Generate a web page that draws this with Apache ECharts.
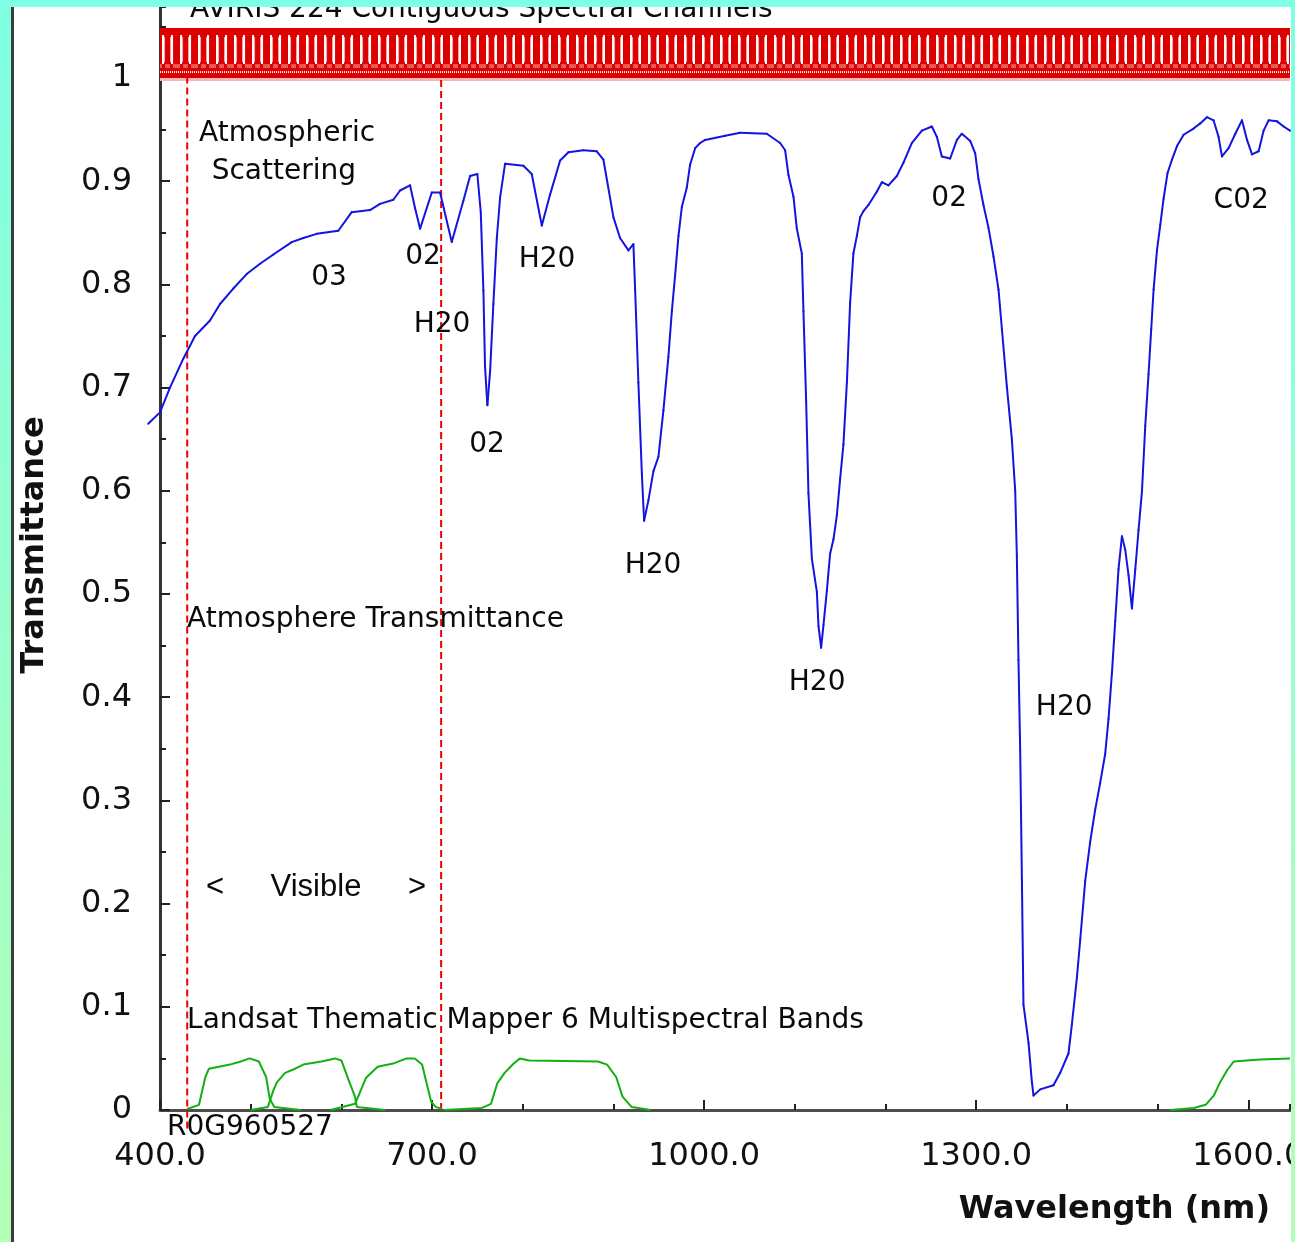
<!DOCTYPE html>
<html>
<head>
<meta charset="utf-8">
<title>Atmosphere Transmittance</title>
<script src="https://cdn.jsdelivr.net/npm/echarts@6/dist/echarts.min.js"></script>
<style>
  html, body { margin: 0; padding: 0; background: #fff; }
  #chart { width: 1295px; height: 1242px; }
</style>
</head>
<body>
<div id="chart"></div>
<script>
// atmosphere transmittance curve (wavelength nm / transmittance)
var waveBlue = [387, 400, 411, 425.7, 438.6, 455.1, 466.2, 480.8, 495.6, 510.3,
  525, 545.3, 558, 572.8, 596.6, 611.4, 631.6, 642.6, 657.3, 664.7,
  675.7, 681.2, 686.8, 699.7, 708.8, 721.7, 734.5, 741.9, 749.9, 753.7,
  756.6, 758.4, 761, 764, 767.6, 771.4, 775, 780.5, 800.7, 809.9,
  821, 830.1, 841.2, 850.3, 866.9, 881.6, 888.9, 900, 907.3, 916.5,
  922, 923.9, 927.5, 931.3, 933.8, 938.6, 944.1, 949.6, 955.1, 960.6,
  964.4, 968, 971.7, 975.4, 980.9, 984.5, 990.1, 995.6, 1001.1, 1023.2,
  1039.7, 1069.1, 1083.8, 1089.3, 1093, 1098.5, 1102.2, 1107.7, 1109.5, 1112.5,
  1115, 1118.8, 1124.3, 1126.1, 1129, 1131.6, 1135.3, 1138.9, 1142.6, 1146.3,
  1150, 1153.6, 1157.4, 1161, 1164.6, 1168.4, 1172, 1175.7, 1181.2, 1190.5,
  1196, 1203.2, 1212.5, 1219.8, 1229, 1240.1, 1251.1, 1256.6, 1262.1, 1271.3,
  1278.7, 1284.2, 1293.4, 1298.9, 1302.5, 1308, 1313.5, 1319.1, 1324.6, 1328.3,
  1333.8, 1339.3, 1343, 1344.8, 1346.6, 1348.5, 1350.4, 1352.1, 1357.7, 1361.4,
  1363.2, 1370.6, 1385.2, 1392.6, 1401.8, 1405.5, 1411, 1414.7, 1420.2, 1425.7,
  1431.2, 1436.7, 1442.2, 1445.9, 1449.7, 1453.3, 1456.9, 1460.7, 1464.3, 1468,
  1471.7, 1475.4, 1479, 1482.8, 1486.4, 1490, 1493, 1495.6, 1499.3, 1503,
  1506.6, 1511, 1515.9, 1521.4, 1528.7, 1539.7, 1547, 1554.4, 1561.7, 1567.2,
  1571, 1578.3, 1585.7, 1593.1, 1598.6, 1604.1, 1611.4, 1616.9, 1622.5, 1631.7,
  1639, 1646];
var transBlue = [0.665, 0.676, 0.700, 0.728, 0.750, 0.765, 0.781, 0.796, 0.810, 0.820,
  0.829, 0.841, 0.845, 0.849, 0.852, 0.870, 0.872, 0.878, 0.882, 0.891,
  0.896, 0.874, 0.854, 0.889, 0.889, 0.841, 0.881, 0.905, 0.907, 0.870,
  0.794, 0.720, 0.683, 0.716, 0.781, 0.845, 0.884, 0.917, 0.915, 0.907,
  0.857, 0.887, 0.920, 0.928, 0.930, 0.929, 0.921, 0.865, 0.845, 0.833,
  0.839, 0.795, 0.705, 0.617, 0.571, 0.591, 0.619, 0.633, 0.678, 0.730,
  0.774, 0.809, 0.847, 0.875, 0.894, 0.916, 0.932, 0.937, 0.940, 0.944,
  0.947, 0.946, 0.937, 0.930, 0.906, 0.885, 0.854, 0.830, 0.774, 0.686,
  0.598, 0.534, 0.502, 0.469, 0.448, 0.470, 0.503, 0.539, 0.553, 0.576,
  0.612, 0.645, 0.705, 0.783, 0.830, 0.847, 0.865, 0.871, 0.877, 0.890,
  0.899, 0.896, 0.905, 0.918, 0.937, 0.949, 0.953, 0.943, 0.924, 0.922,
  0.940, 0.946, 0.939, 0.927, 0.902, 0.877, 0.855, 0.827, 0.795, 0.757,
  0.701, 0.650, 0.600, 0.537, 0.436, 0.348, 0.222, 0.102, 0.065, 0.027,
  0.014, 0.020, 0.024, 0.036, 0.055, 0.083, 0.128, 0.165, 0.222, 0.260,
  0.291, 0.317, 0.345, 0.379, 0.424, 0.474, 0.524, 0.556, 0.543, 0.518,
  0.486, 0.524, 0.562, 0.600, 0.663, 0.713, 0.757, 0.795, 0.833, 0.858,
  0.883, 0.908, 0.921, 0.934, 0.945, 0.951, 0.956, 0.962, 0.959, 0.943,
  0.924, 0.932, 0.946, 0.959, 0.940, 0.926, 0.929, 0.949, 0.959, 0.958,
  0.953, 0.949];

// Landsat TM band responses
var tmWave1 = [430, 443, 450, 454, 465, 477, 489, 499, 509, 517, 521, 526, 555];
var tmTrans1 = [0.001, 0.005, 0.032, 0.040, 0.042, 0.044, 0.047, 0.050, 0.047, 0.032, 0.011, 0.003, 0];
var tmWave2 = [500, 519, 525, 529, 538, 549, 558, 578, 593, 600, 608, 615, 617, 648];
var tmTrans2 = [0, 0.003, 0.019, 0.027, 0.036, 0.040, 0.044, 0.047, 0.050, 0.048, 0.029, 0.013, 0.003, 0];
var tmWave3 = [588, 615, 620, 627, 640, 657, 672, 681, 689, 694, 699, 704, 711];
var tmTrans3 = [0, 0.006, 0.016, 0.031, 0.042, 0.045, 0.050, 0.050, 0.044, 0.026, 0.008, 0.003, 0.001];
var tmWave4 = [713, 755, 765, 772, 780, 790, 797, 807, 883, 893, 903, 910, 920, 941];
var tmTrans4 = [0, 0.002, 0.006, 0.026, 0.036, 0.045, 0.050, 0.048, 0.047, 0.044, 0.032, 0.013, 0.003, 0];
var tmWave5 = [1514, 1540, 1553, 1562, 1569, 1577, 1584, 1613, 1646];
var tmTrans5 = [0, 0.002, 0.005, 0.014, 0.027, 0.039, 0.047, 0.049, 0.050];

// visible range edges
var visibleEdges = [430, 710];
var visibleLow = [-0.018, 0];

// AVIRIS channel strip
var avirisWave = [400, 1646];
var avirisTrans = [1.0, 1.0484];

// text notes
var annoText = ['AVIRIS 224 Contiguous Spectral Channels', 'Atmospheric', 'Scattering', '03', '02', 'H20', '02', 'H20',
  'H20', 'H20', '02', 'H20', 'C02', 'Atmosphere Transmittance',
  'Landsat Thematic Mapper 6 Multispectral Bands', 'R0G960527'];
var annoWave = [433, 443, 457, 586.4, 690, 711, 760.7, 826.8, 943.7, 1124.6, 1270.2, 1397, 1592.2, 429.8, 429.8, 407.7];
var annoTrans = [1.0659, 0.9457, 0.909, 0.806, 0.8266, 0.7607, 0.6444, 0.8236, 0.5271, 0.4138, 0.8828, 0.3895, 0.8808,
  0.4747, 0.0862, -0.0175];
var annoAlign = ['left', 'left', 'left', 'center', 'center', 'center', 'center', 'center', 'center', 'center', 'center',
  'center', 'center', 'left', 'left', 'left'];
var visText = ['<', 'Visible', '>'];
var visWave = [460.7, 572, 683.4];
var visTrans = [0.2161, 0.2161, 0.2161];

var FONT = 'DejaVu Sans';

function pairs(xs, ys) {
  return xs.map(function (x, i) { return [x, ys[i]]; });
}

function segments(xs, ys) {
  var out = [];
  for (var i = 1; i < xs.length; i++) out.push([xs[i - 1], ys[i - 1], xs[i], ys[i]]);
  return out;
}

// red strip texture, two channels per tile
function bandPattern() {
  var cols = 'RRWWPRRRRRPWWRRRRR';
  var c = document.createElement('canvas');
  c.width = cols.length;
  c.height = 50;
  var g = c.getContext('2d');
  g.fillStyle = '#dd0000';
  g.fillRect(0, 0, c.width, 50);
  for (var x = 0; x < cols.length; x++) {
    if (cols[x] === 'W') {
      g.fillStyle = '#ffffff';
      g.fillRect(x, 7, 1, 29);
    } else if (cols[x] === 'P') {
      g.fillStyle = '#f4a4a4';
      g.fillRect(x, 9, 1, 25);
    } else {
      g.fillStyle = '#e65a5a';
      g.fillRect(x, 36, 1, 4);
    }
    if (x % 2 === 0) {
      g.fillStyle = '#ffffff';
      g.fillRect(x, 43, 1, 2);
    }
  }
  return c;
}

// straight pieces drawn through the axes, not clipped by the grid
function segSeries(segs, style, z) {
  return {
    type: 'custom',
    silent: true,
    clip: false,
    z: z,
    data: segs,
    renderItem: function (params, api) {
      var a = api.coord([api.value(0), api.value(1)]);
      var b = api.coord([api.value(2), api.value(3)]);
      return {
        type: 'line',
        shape: { x1: a[0], y1: a[1], x2: b[0], y2: b[1] },
        style: style
      };
    }
  };
}

function tmSeries(xs, ys) {
  return {
    type: 'line',
    data: pairs(xs, ys),
    symbol: 'none',
    clip: false,
    z: 3,
    lineStyle: { color: '#12b012', width: 2 }
  };
}

function textSeries(texts, xs, ys, aligns, font, size) {
  return {
    type: 'scatter',
    silent: true,
    clip: false,
    symbolSize: 1,
    z: 4,
    itemStyle: { color: 'rgba(0,0,0,0)', opacity: 1 },
    data: texts.map(function (t, i) {
      return {
        value: [xs[i], ys[i]],
        name: t,
        label: { align: aligns ? aligns[i] : 'center' }
      };
    }),
    label: {
      show: true,
      position: 'inside',
      verticalAlign: 'middle',
      fontFamily: font,
      fontSize: size,
      color: '#0a0a0a',
      formatter: function (p) { return p.name; }
    }
  };
}

var chart = echarts.init(document.getElementById('chart'));
var stripGradient = new echarts.graphic.LinearGradient(0, 0, 0, 1, [
  { offset: 0, color: '#7fffe3' },
  { offset: 1, color: '#b2ffb6' }
]);

chart.setOption({
  animation: false,
  backgroundColor: '#ffffff',
  grid: { left: 160, right: 5, top: 7, bottom: 132, containLabel: false, outerBoundsMode: 'none' },
  xAxis: [
    {
      type: 'value', position: 'bottom', min: 400, max: 1646, interval: 300,
      axisLine: { lineStyle: { color: '#4d4d4d', width: 3 } },
      axisTick: { inside: true, length: 10, lineStyle: { color: '#222', width: 2 } },
      axisLabel: {
        margin: 31, fontFamily: FONT, fontSize: 32, color: '#111', showMaxLabel: false,
        formatter: function (v) { return v.toFixed(1); }
      },
      splitLine: { show: false }
    },
    {
      type: 'value', position: 'bottom', min: 400, max: 1646, interval: 100,
      axisLine: { show: false },
      axisTick: { inside: true, length: 6, lineStyle: { color: '#222', width: 2 } },
      axisLabel: { show: false },
      splitLine: { show: false }
    }
  ],
  yAxis: [
    {
      type: 'value', position: 'left', min: 0, max: 1.0688, interval: 0.1,
      axisLine: { lineStyle: { color: '#333', width: 3 } },
      axisTick: { inside: true, length: 10, lineStyle: { color: '#222', width: 2 } },
      axisLabel: { margin: 28, fontFamily: FONT, fontSize: 32, color: '#111', showMaxLabel: false },
      splitLine: { show: false }
    },
    {
      type: 'value', position: 'left', min: 0, max: 1.0688, interval: 0.05,
      axisLine: { show: false },
      axisTick: { inside: true, length: 6, lineStyle: { color: '#222', width: 2 } },
      axisLabel: { show: false },
      splitLine: { show: false }
    }
  ],
  series: [
    {
      type: 'custom',
      silent: true,
      z: 1,
      data: [[avirisWave[0], avirisWave[1], avirisTrans[0], avirisTrans[1]]],
      renderItem: function (params, api) {
        var p0 = api.coord([api.value(0), api.value(3)]);
        var p1 = api.coord([api.value(1), api.value(2)]);
        return {
          type: 'group',
          children: [
            {
              type: 'rect', x: p0[0], y: p0[1],
              shape: { x: 0, y: 0, width: p1[0] - p0[0], height: p1[1] - p0[1] },
              style: { fill: { image: bandPattern(), repeat: 'repeat' } }
            },
            {
              type: 'rect',
              shape: { x: p0[0], y: p1[1], width: p1[0] - p0[0], height: 3 },
              style: { fill: '#f6b4b4' }
            }
          ]
        };
      }
    },
    segSeries(segments(waveBlue, transBlue),
      { stroke: '#1414e0', lineWidth: 2, lineCap: 'round' }, 3),
    segSeries(visibleEdges.map(function (w, i) { return [w, visibleLow[i], w, 1]; }),
      { stroke: '#ee0000', lineWidth: 2, lineDash: [7, 4] }, 2),
    tmSeries(tmWave1, tmTrans1),
    tmSeries(tmWave2, tmTrans2),
    tmSeries(tmWave3, tmTrans3),
    tmSeries(tmWave4, tmTrans4),
    tmSeries(tmWave5, tmTrans5),
    textSeries(annoText, annoWave, annoTrans, annoAlign, FONT, 28),
    textSeries(visText, visWave, visTrans, null, 'Liberation Sans', 31)
  ],
  graphic: [
    {
      type: 'text', z: 50, x: 35, y: 545, rotation: Math.PI / 2,
      style: {
        text: 'Transmittance', fontFamily: FONT, fontWeight: 'bold', fontSize: 32,
        fill: '#111', align: 'center', verticalAlign: 'middle'
      }
    },
    {
      type: 'text', z: 50, x: 1270, y: 1210,
      style: {
        text: 'Wavelength (nm)', fontFamily: FONT, fontWeight: 'bold', fontSize: 32,
        fill: '#111', align: 'right', verticalAlign: 'middle'
      }
    },
    { type: 'rect', z: 100, shape: { x: 0, y: 0, width: 11, height: 1242 }, style: { fill: stripGradient } },
    { type: 'rect', z: 100, shape: { x: 11, y: 7, width: 3, height: 1235 }, style: { fill: '#3c3c3c' } },
    { type: 'rect', z: 100, shape: { x: 1291, y: 0, width: 4, height: 1242 }, style: { fill: stripGradient } },
    { type: 'rect', z: 100, shape: { x: 0, y: 0, width: 1295, height: 7 }, style: { fill: '#7fffe3' } }
  ]
});
</script>
</body>
</html>
